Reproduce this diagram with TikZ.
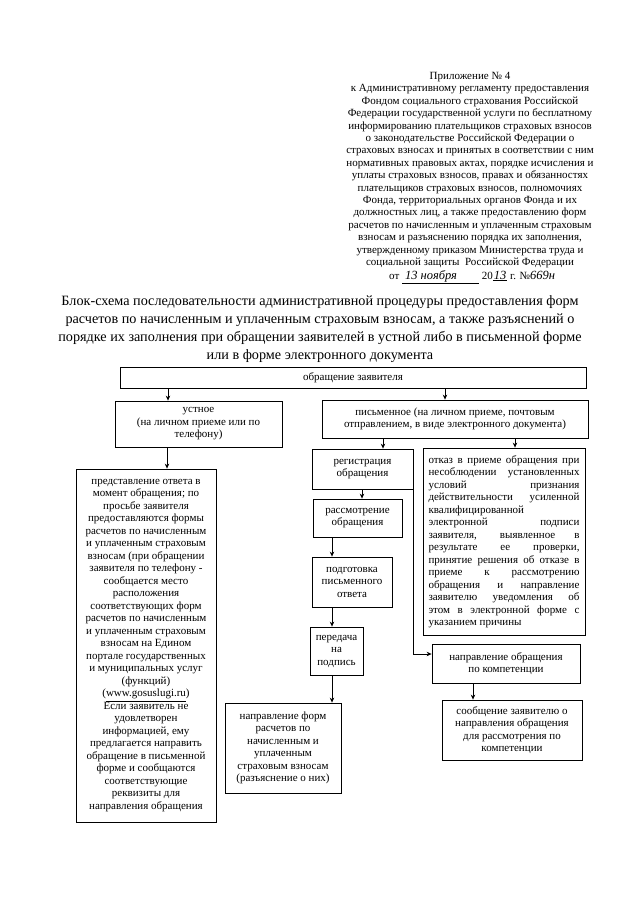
\documentclass[tikz,border=0pt]{standalone}
\usepackage{fontspec}
\setmainfont{Liberation Serif}
\usetikzlibrary{arrows.meta}
\newcommand\bxfont{\fontsize{11}{12.5}\selectfont}
\newcommand\hdfont{\fontsize{11}{12.4}\selectfont}
\newcommand\jstline[1]{\makebox[151pt][s]{#1}}
\newcommand\lftline[1]{\makebox[151pt][l]{#1}}
\hyphenpenalty=10000
\exhyphenpenalty=10000
\tikzset{
  box/.style={draw, line width=0.8pt, inner sep=0pt, align=center, font=\bxfont},
  arr/.style={line width=0.8pt, -{Stealth[length=5pt,width=4.5pt]}},
}
\begin{document}
\begin{tikzpicture}[x=1pt,y=-1pt]
\useasboundingbox[fill=white] (0,0) rectangle (640,905);

% header
\node[font=\hdfont, align=center, anchor=north, inner sep=0pt] (hdr) at (470,72) {Приложение № 4\\
к Административному регламенту предоставления\\
Фондом социального страхования Российской\\
Федерации государственной услуги по бесплатному\\
информированию плательщиков страховых взносов\\
о законодательстве Российской Федерации о\\
страховых взносах и принятых в соответствии с ним\\
нормативных правовых актах, порядке исчисления и\\
уплаты страховых взносов, правах и обязанностях\\
плательщиков страховых взносов, полномочиях\\
Фонда, территориальных органов Фонда и их\\
должностных лиц, а также предоставлению форм\\
расчетов по начисленным и уплаченным страховым\\
взносам и разъяснению порядка их заполнения,\\
утвержденному приказом Министерства труда и\\
социальной защиты\ \ Российской Федерации};
\node[font=\hdfont, anchor=base west, inner sep=0pt] (date) at (389,279) {от \underline{\hspace{3pt}{\fontsize{12.5}{13}\selectfont\itshape 13 ноября}\hspace{22pt}}\ 20\underline{\hspace{1pt}{\fontsize{12.5}{13}\selectfont\itshape 13}\hspace{1pt}} г. №{\fontsize{12.5}{13}\selectfont\itshape 669н}};

% title
\node[font=\fontsize{14.2}{18.3}\selectfont, align=center, anchor=north, inner sep=0pt] (title) at (320,295) {Блок-схема последовательности административной процедуры предоставления форм\\
расчетов по начисленным и уплаченным страховым взносам, а также разъяснений о\\
порядке их заполнения при обращении заявителей в устной либо в письменной форме\\
или в форме электронного документа};

% boxes
\node[box, minimum width=466pt, minimum height=21pt] (obr) at (353,377.5) {обращение заявителя};
\node[box, minimum width=167pt, minimum height=46pt] (ustn) at (198.5,424) {устное\\(на личном приеме или по\\телефону)};
\node[box, minimum width=266pt, minimum height=38pt] (pism) at (455,419) {письменное (на личном приеме, почтовым\\отправлением, в виде электронного документа)};
\node[box, minimum width=140pt, minimum height=353pt] (left) at (146,645.5) {представление ответа в\\
момент обращения; по\\
просьбе заявителя\\
предоставляются формы\\
расчетов по начисленным\\
и уплаченным страховым\\
взносам (при обращении\\
заявителя по телефону -\\
сообщается место\\
расположения\\
соответствующих форм\\
расчетов по начисленным\\
и уплаченным страховым\\
взносам на Едином\\
портале государственных\\
и муниципальных услуг\\
(функций)\\
(\underline{www.gosuslugi.ru})\\
Если заявитель не\\
удовлетворен\\
информацией, ему\\
предлагается направить\\
обращение в письменной\\
форме и сообщаются\\
соответствующие\\
реквизиты для\\
направления обращения};
\node[box, minimum width=101pt, minimum height=40pt] (reg) at (362.5,469) {регистрация\\обращения};
\node[box, minimum width=89pt, minimum height=38pt] (rassm) at (357.5,518) {рассмотрение\\обращения};
\node[box, minimum width=80pt, minimum height=50pt] (podg) at (352,582) {подготовка\\письменного\\ответа};
\node[box, minimum width=53pt, minimum height=48pt] (pered) at (336.5,651) {передача\\на\\подпись};
\node[box, minimum width=116pt, minimum height=90pt] (nform) at (283,748) {направление форм\\расчетов по\\начисленным и\\уплаченным\\страховым взносам\\(разъяснение о них)};
\node[box, minimum width=162pt, minimum height=187pt, align=left] (otkaz) at (504,541.5) {\jstline{отказ в приеме обращения при}\\
\jstline{несоблюдении установленных}\\
\jstline{условий признания}\\
\jstline{действительности усиленной}\\
\lftline{квалифицированной}\\
\jstline{электронной подписи}\\
\jstline{заявителя, выявленное в}\\
\jstline{результате ее проверки,}\\
\jstline{принятие решения об отказе в}\\
\jstline{приеме к рассмотрению}\\
\jstline{обращения и направление}\\
\jstline{заявителю уведомления об}\\
\jstline{этом в электронной форме с}\\
\lftline{указанием причины}};
\node[box, minimum width=148pt, minimum height=39pt] (nobr) at (506,663.5) {направление обращения\\по компетенции};
\node[box, minimum width=140pt, minimum height=60pt] (soob) at (512,730) {сообщение заявителю о\\направления обращения\\для рассмотрения по\\компетенции};

% arrow x positions
\coordinate (xa) at (168,0);
\coordinate (xb) at (445,0);
\coordinate (xc) at (167,0);
\coordinate (xd) at (383,0);
\coordinate (xe) at (515,0);
\coordinate (xf) at (362,0);
\coordinate (xg) at (332,0);
\coordinate (xh) at (473,0);

\draw[arr] (obr.south -| xa) -- (ustn.north -| xa);
\draw[arr] (obr.south -| xb) -- (pism.north -| xb);
\draw[arr] (ustn.south -| xc) -- (left.north -| xc);
\draw[arr] (pism.south -| xd) -- (reg.north -| xd);
\draw[arr] (pism.south -| xe) -- (otkaz.north -| xe);
\draw[arr] (reg.south -| xf) -- (rassm.north -| xf);
\draw[arr] (rassm.south -| xg) -- (podg.north -| xg);
\draw[arr] (podg.south -| xg) -- (pered.north -| xg);
\draw[arr] (pered.south -| xg) -- (nform.north -| xg);
\draw[arr] (reg.south east) |- ([yshift=9.5pt]nobr.west);
\draw[arr] (nobr.south -| xh) -- (soob.north -| xh);
\end{tikzpicture}
\end{document}
